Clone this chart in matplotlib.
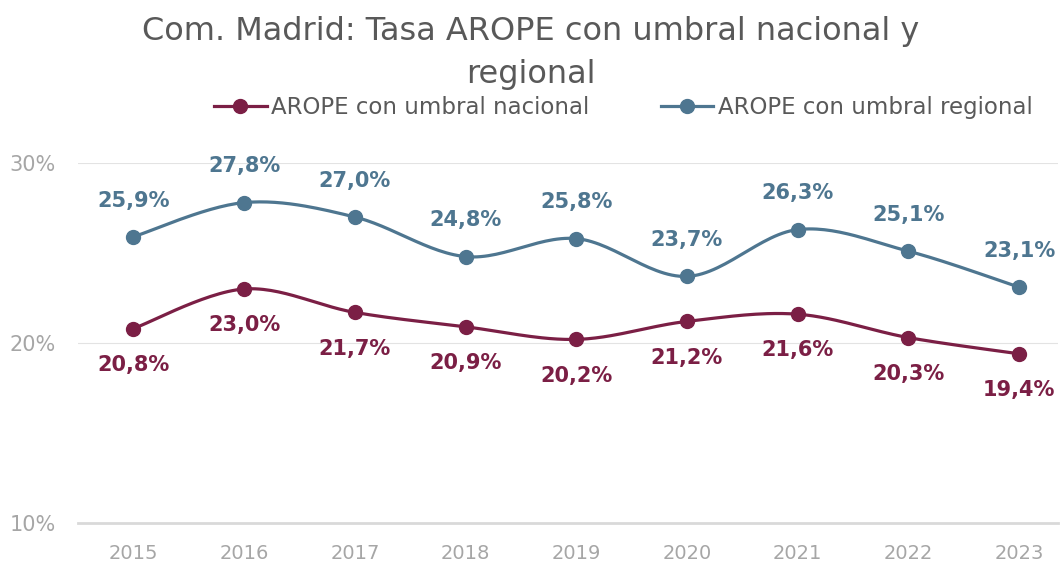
import matplotlib
matplotlib.use("Agg")
import matplotlib.pyplot as plt
import numpy as np

years = ["2015", "2016", "2017", "2018", "2019", "2020", "2021", "2022", "2023"]
nacional = [20.8, 23.0, 21.7, 20.9, 20.2, 21.2, 21.6, 20.3, 19.4]
regional = [25.9, 27.8, 27.0, 24.8, 25.8, 23.7, 26.3, 25.1, 23.1]

red = "#7b1f45"
blue = "#4e7690"
grey_txt = "#595959"
grey_tick = "#a6a6a6"

plt.rcParams['font.family'] = ['DejaVu Sans']


def smooth(x, y, n=30):
    # Excel-like smoothed line: Catmull-Rom as cubic bezier segments
    x = np.asarray(x, float)
    y = np.asarray(y, float)
    P = np.column_stack([x, y])
    out = []
    t = np.linspace(0, 1, n)[:, None]
    for i in range(len(P) - 1):
        p0 = P[max(i - 1, 0)]
        p1 = P[i]
        p2 = P[i + 1]
        p3 = P[min(i + 2, len(P) - 1)]
        c1 = p1 + (p2 - p0) / 6
        c2 = p2 - (p3 - p1) / 6
        seg = ((1 - t) ** 3) * p1 + 3 * ((1 - t) ** 2) * t * c1 \
            + 3 * (1 - t) * t ** 2 * c2 + t ** 3 * p2
        out.append(seg if i == 0 else seg[1:])
    out = np.vstack(out)
    return out[:, 0], out[:, 1]


fig = plt.figure(figsize=[10.6, 5.64], dpi=100)
ax = fig.add_axes([0.0736, 0.0727, 0.9244, 0.6383])

xs = np.arange(len(years))
for vals, color, label, above in ((nacional, red, "AROPE con umbral nacional", False),
                                  (regional, blue, "AROPE con umbral regional", True)):
    sx, sy = smooth(xs, vals)
    ax.plot(sx, sy, color=color, lw=2.3, solid_capstyle='round', zorder=3)
    ax.plot(xs, vals, 'o', color=color, ms=10, zorder=4)
    ax.plot([], [], '-o', color=color, lw=2.3, ms=10, label=label)
    for xi, v in zip(xs, vals):
        txt = ("%.1f%%" % v).replace(".", ",")
        off = 26 if above else -26
        ax.annotate(txt, (xi, v), xytext=(0, off), textcoords='offset points',
                    ha='center', va='center', fontsize=15, fontweight='bold',
                    color=color)

ax.set_xlim(-0.5, 8.35)
ax.set_ylim(10, 30)
ax.set_yticks([10, 20, 30])
ax.set_yticklabels(["10%", "20%", "30%"])
ax.set_xticks(xs)
ax.set_xticklabels(years)
ax.tick_params(length=0, labelsize=14, colors=grey_tick)
ax.tick_params(axis='x', pad=15)
ax.tick_params(axis='y', pad=16, labelsize=15)
for s in ax.spines.values():
    s.set_visible(False)
ax.axhline(20, color="#e3e3e3", lw=0.8, zorder=1)
ax.axhline(30, color="#e3e3e3", lw=0.8, zorder=1)
ax.axhline(10, color="#d9d9d9", lw=2, zorder=1, clip_on=False)

fig.text(0.501, 0.945, "Com. Madrid: Tasa AROPE con umbral nacional y",
         ha='center', va='center', fontsize=23, color=grey_txt)
fig.text(0.501, 0.868, "regional", ha='center', va='center', fontsize=23,
         color=grey_txt)

fig.legend(loc='center', bbox_to_anchor=(0.588, 0.81), ncol=2, frameon=False,
           fontsize=16.5, handlelength=2.3, handletextpad=0.2, columnspacing=3.1,
           labelcolor=grey_txt)

fig.savefig("out.png", dpi=100)
